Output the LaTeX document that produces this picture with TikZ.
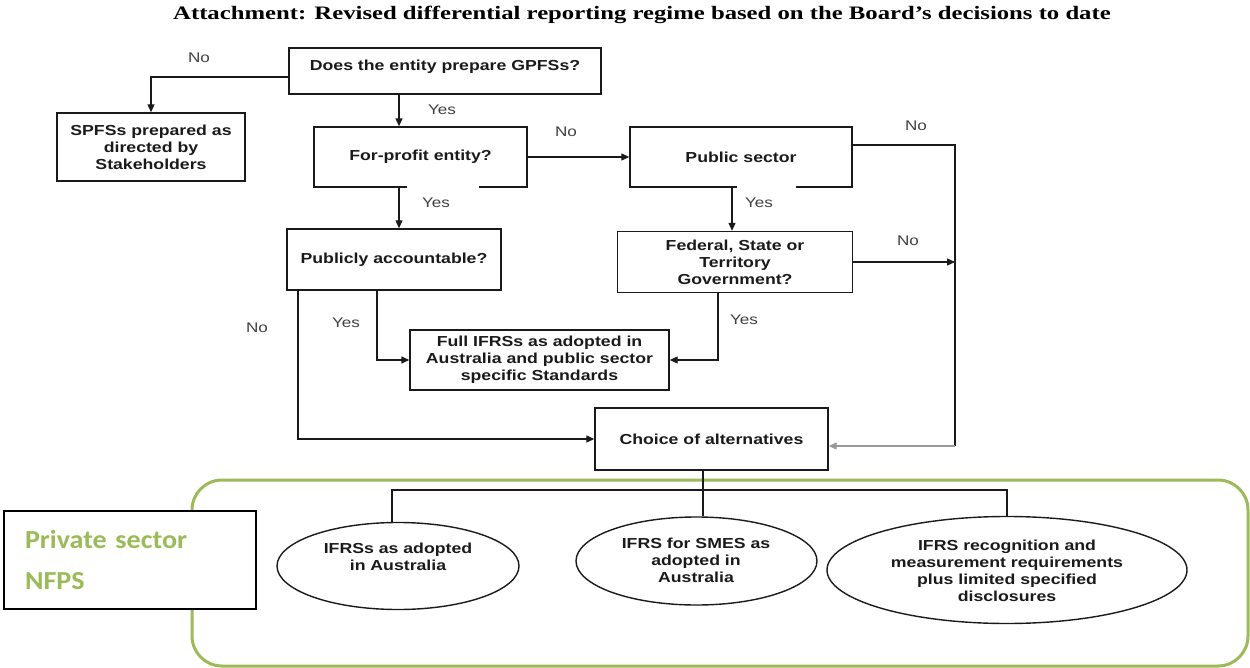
\documentclass[tikz,border=0pt]{standalone}
\usepackage{fontspec}
\usetikzlibrary{shapes.geometric, arrows.meta}
\newfontfamily\boxf{Liberation Sans}[FakeStretch=1.22]
\newfontfamily\titlef{Liberation Serif}[FakeStretch=1.3]
\newfontfamily\calf{Carlito}[FakeStretch=1.08]
\definecolor{lgreen}{HTML}{9BBB59}
\definecolor{ink}{HTML}{1A1A1A}
\definecolor{lab}{HTML}{404040}
\begin{document}
\begin{tikzpicture}[x=1pt,y=-1pt,
 box/.style={draw=ink, line width=1.4pt, inner sep=0pt, align=center,
   font=\boxf\bfseries\fontsize{14.5}{17}\selectfont, text=ink},
 ell/.style={ellipse, draw=ink, line width=1.4pt, inner sep=0pt},
 etxt/.style={align=center, inner sep=0pt, font=\boxf\bfseries\fontsize{14.5}{17}\selectfont, text=ink},
 lbl/.style={font=\boxf\fontsize{14}{16}\selectfont, text=lab, inner sep=0pt},
 arr/.style={draw=ink, line width=1.2pt, -{Triangle[length=8pt,width=7pt]}},
 ln/.style={draw=ink, line width=1.2pt}]
\useasboundingbox (0,0) rectangle (1250,668);

\node[font=\titlef\bfseries\fontsize{19}{22}\selectfont, anchor=base, inner sep=0pt] (title) at (642,20)
  {Attachment: Revised differential reporting regime based on the Board’s decisions to date};

% flowchart boxes
\node[box, minimum width=312pt, minimum height=46pt, text depth=12pt] (q1) at (445,71) {Does the entity prepare GPFSs?};
\node[box, minimum width=188pt, minimum height=68pt] (spfs) at (151,147) {SPFSs prepared as\\directed by\\Stakeholders};
\node[box, minimum width=213pt, minimum height=60pt] (fp) at (420.5,157) {For-profit entity?};
\node[box, minimum width=222pt, minimum height=60pt] (ps) at (741,157) {Public sector};
\node[box, minimum width=214pt, minimum height=61pt] (pa) at (394,259.5) {Publicly accountable?};
\node[box, minimum width=235pt, minimum height=61pt] (fed) at (735,262) {Federal, State or\\Territory\\Government?};
\node[box, minimum width=259pt, minimum height=60pt] (full) at (539.5,360) {Full IFRSs as adopted in\\Australia and public sector\\specific Standards};
\node[box, minimum width=233pt, minimum height=62pt] (choice) at (711.5,439) {Choice of alternatives};

% gaps in bottom edges
\draw[white, line width=3pt] (fp.south -| 407,0) -- (fp.south -| 479,0);
\draw[white, line width=3pt] (ps.south -| 737,0) -- (ps.south -| 796,0);

% green region
\draw[lgreen, line width=3pt, rounded corners=30pt] (192,480) rectangle (1248,666);

% ellipses
\node[ell, minimum width=242pt, minimum height=87pt] (e1) at (398,566) {};
\node[etxt] (t1) at (398,557) {IFRSs as adopted\\in Australia};
\node[ell, minimum width=241pt, minimum height=88pt] (e2) at (696.5,561) {};
\node[etxt] (t2) at (696,560) {IFRS for SMES as\\adopted in\\Australia};
\node[ell, minimum width=360pt, minimum height=107pt] (e3) at (1007,570) {};
\node[etxt] (t3) at (1007,571) {IFRS recognition and\\measurement requirements\\plus limited specified\\disclosures};

% private sector box
\node[draw=black, line width=2.5pt, fill=white, minimum width=252pt, minimum height=98pt,
  text width=210pt, align=left, inner sep=0pt,
  font=\calf\bfseries\fontsize{26}{41}\selectfont, text=lgreen] (priv) at (130,560) {Private sector\\NFPS};

% connectors
\coordinate (rt) at (955,145);
\coordinate (rb) at (955,446);
\coordinate (bus) at (703,490);

\draw[arr] ([yshift=-6pt]q1.west) -| (spfs.north);
\draw[arr] (q1.south -| 399,0) -- (fp.north -| 399,0);
\draw[arr] (fp.south -| 399,0) -- (pa.north -| 399,0);
\draw[arr] (fp.east) -- (ps.west);
\draw[ln] (ps.east |- rt) -- (rt) -- (rb);
\draw[arr, draw=gray!80] (rb) -- (choice.east |- rb);
\draw[arr] (ps.south -| 732,0) -- (fed.north -| 732,0);
\draw[arr] (fed.east) -- (fed.east -| rt);
\draw[arr] (fed.south -| 718,0) |- (full.east);
\draw[arr] (pa.south -| 377,0) |- (full.west);
\draw[arr] (pa.south -| 298,0) |- (choice.west);
\draw[ln] (choice.south -| bus) -- (bus);
\draw[ln] (e1.north -| 392,0) |- (bus) -| (e3.north);
\draw[ln] (bus) -- (bus |- e2.north);

% labels
\node[lbl] (l1) at (199,58) {No};
\node[lbl] (l2) at (442,110) {Yes};
\node[lbl] (l3) at (566,132) {No};
\node[lbl] (l4) at (436,203) {Yes};
\node[lbl] (l5) at (916,126) {No};
\node[lbl] (l6) at (759,203) {Yes};
\node[lbl] (l7) at (908,241) {No};
\node[lbl] (l8) at (744,320) {Yes};
\node[lbl] (l9) at (346,323) {Yes};
\node[lbl] (l10) at (257,328) {No};
\end{tikzpicture}
\end{document}
